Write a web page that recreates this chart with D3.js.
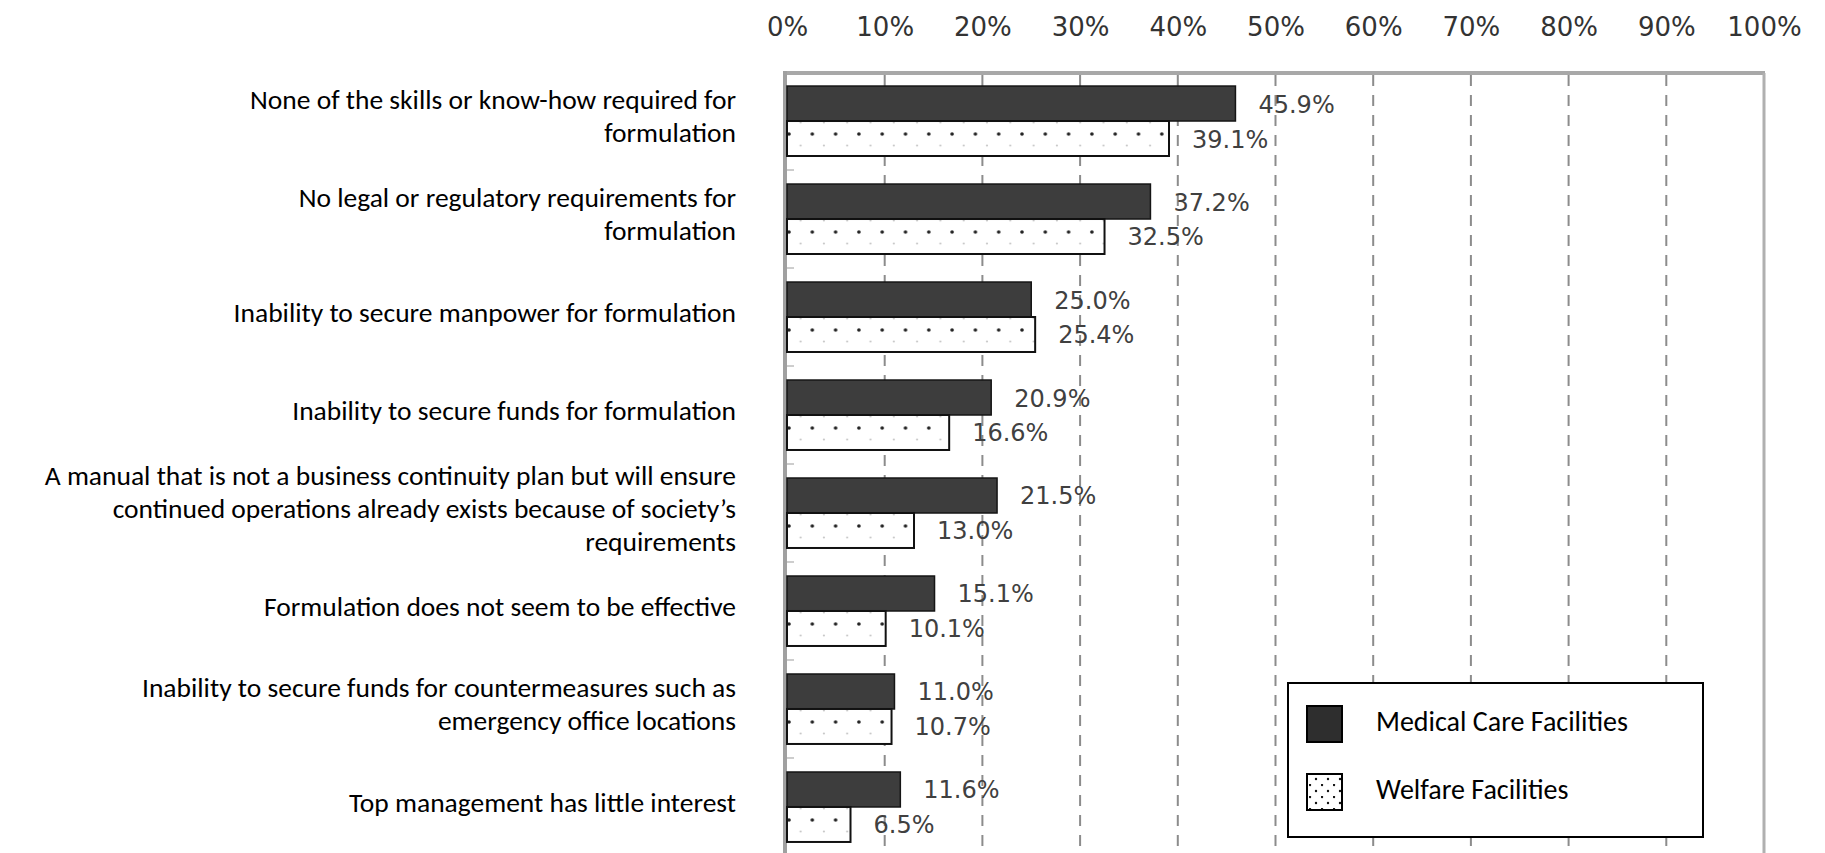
<!DOCTYPE html>
<html>
<head>
<meta charset="utf-8">
<script src="https://cdn.jsdelivr.net/npm/d3@7/dist/d3.min.js"></script>
<style>
  html, body { margin: 0; padding: 0; background: #fff; }
  svg { display: block; }
</style>
</head>
<body>
<svg id="chart"></svg>
<script>
// categories (line breaks as in the picture)
const categories = [
  'None of the skills or know-how required for\nformulation',
  'No legal or regulatory requirements for\nformulation',
  'Inability to secure manpower for formulation',
  'Inability to secure funds for formulation',
  'A manual that is not a business continuity plan but will ensure\ncontinued operations already exists because of society\u2019s\nrequirements',
  'Formulation does not seem to be effective',
  'Inability to secure funds for countermeasures such as\nemergency office locations',
  'Top management has little interest',
];
const medical = [45.9, 37.2, 25.0, 20.9, 21.5, 15.1, 11.0, 11.6];
const welfare = [39.1, 32.5, 25.4, 16.6, 13.0, 10.1, 10.7, 6.5];
const seriesNames = ['Medical Care Facilities', 'Welfare Facilities'];
const xTicks = [0, 10, 20, 30, 40, 50, 60, 70, 80, 90, 100];

const width = 1825;
const height = 853;

const svg = d3.select('#chart').attr('width', width).attr('height', height);

const defs = svg.append('defs');

// dotted fill, anchored to page like the original
const dots = defs.append('pattern')
  .attr('id', 'dots')
  .attr('patternUnits', 'userSpaceOnUse')
  .attr('x', 789).attr('y', 140)
  .attr('width', 23.3).attr('height', 23);
dots.append('rect').attr('width', 23.3).attr('height', 23).attr('fill', '#fff');
[[0, 0], [23.3, 0], [0, 23], [23.3, 23]].forEach(([cx, cy]) => {
  dots.append('circle').attr('cx', cx).attr('cy', cy).attr('r', 1.8).attr('fill', '#222');
});
dots.append('circle').attr('cx', 11.6).attr('cy', 11.5).attr('r', 1.1).attr('fill', '#c8c8c8');

const dotsSmall = defs.append('pattern')
  .attr('id', 'dots-small')
  .attr('patternUnits', 'userSpaceOnUse')
  .attr('x', 1310).attr('y', 778)
  .attr('width', 12).attr('height', 12);
dotsSmall.append('rect').attr('width', 12).attr('height', 12).attr('fill', '#fff');
dotsSmall.append('circle').attr('cx', 1).attr('cy', 1).attr('r', 1.2).attr('fill', '#111');
dotsSmall.append('circle').attr('cx', 7).attr('cy', 7).attr('r', 1.2).attr('fill', '#111');

const x = d3.scaleLinear().domain([0, 100]).range([787, 1764]);

const y = d3.scaleBand()
  .domain(d3.range(categories.length))
  .range([73, 855])
  .paddingInner(0.286)
  .paddingOuter(0.133);

const ySub = d3.scaleBand()
  .domain(['medical', 'welfare'])
  .range([0, y.bandwidth()]);

const rows = categories.map((c, i) => {
  return { i, label: c, medical: medical[i], welfare: welfare[i] };
});

// dashed gridlines
svg.append('g')
  .selectAll('line')
  .data(xTicks.filter(t => t > 0 && t < 100))
  .enter()
  .append('line')
  .attr('x1', d => x(d))
  .attr('x2', d => x(d))
  .attr('y1', 75)
  .attr('y2', height)
  .attr('stroke', '#8c8c8c')
  .attr('stroke-width', 2)
  .attr('stroke-dasharray', '11,9');

// frame: top, right, left axis
svg.append('line')
  .attr('x1', x(0) - 2).attr('x2', x(100) + 1)
  .attr('y1', 73).attr('y2', 73)
  .attr('stroke', '#a8a8a8').attr('stroke-width', 4);

svg.append('line')
  .attr('x1', x(100)).attr('x2', x(100))
  .attr('y1', 73).attr('y2', height)
  .attr('stroke', '#b0b0b0').attr('stroke-width', 3);

svg.append('line')
  .attr('x1', x(0) - 2).attr('x2', x(0) - 2)
  .attr('y1', 71).attr('y2', height)
  .attr('stroke', '#a0a0a0').attr('stroke-width', 4);

// small category ticks between groups
const gap = y.step() * y.paddingInner();
svg.append('g')
  .selectAll('line')
  .data(d3.range(1, categories.length))
  .enter()
  .append('line')
  .attr('x1', x(0))
  .attr('x2', x(0) + 7)
  .attr('y1', d => y(d) - gap / 2)
  .attr('y2', d => y(d) - gap / 2)
  .attr('stroke', '#bdbdbd')
  .attr('stroke-width', 1.5);

// top axis labels
svg.append('g')
  .attr('transform', 'translate(0,73)')
  .call(d3.axisTop(x).tickValues(xTicks).tickFormat(d => d + '%').tickSize(0).tickPadding(37))
  .call(g => g.select('.domain').remove())
  .selectAll('text')
  .attr('font-family', '"DejaVu Sans", Verdana, sans-serif')
  .attr('font-size', 26)
  .attr('fill', '#333');

// bars
const groups = svg.append('g')
  .selectAll('g')
  .data(rows)
  .enter()
  .append('g')
  .attr('transform', d => `translate(0,${y(d.i)})`);

groups.append('rect')
  .attr('x', x(0))
  .attr('y', ySub('medical'))
  .attr('width', d => x(d.medical) - x(0))
  .attr('height', ySub.bandwidth())
  .attr('fill', '#3d3d3d')
  .attr('stroke', '#151515')
  .attr('stroke-width', 1.5);

groups.append('rect')
  .attr('x', x(0))
  .attr('y', ySub('welfare'))
  .attr('width', d => x(d.welfare) - x(0))
  .attr('height', ySub.bandwidth())
  .attr('fill', 'url(#dots)')
  .attr('stroke', '#111')
  .attr('stroke-width', 2);

// value labels
['medical', 'welfare'].forEach(key => {
  groups.append('text')
    .attr('x', d => x(d[key]) + 23)
    .attr('y', ySub(key) + ySub.bandwidth() / 2 + 2)
    .attr('dominant-baseline', 'middle')
    .attr('font-family', '"DejaVu Sans", Verdana, sans-serif')
    .attr('font-size', 24)
    .attr('fill', '#404040')
    .text(d => d[key].toFixed(1) + '%');
});

// category labels
const lineH = 33;
const labels = svg.append('g')
  .selectAll('text')
  .data(rows)
  .enter()
  .append('text')
  .attr('text-anchor', 'end')
  .attr('font-family', 'Carlito, Calibri, Lato, sans-serif')
  .attr('font-size', 27.5)
  .attr('fill', '#000');

labels.each(function (d) {
  const lines = d.label.split('\n');
  const cy = y(d.i) + y.bandwidth() / 2 - 2;
  const top = cy - ((lines.length - 1) * lineH) / 2;
  d3.select(this)
    .selectAll('tspan')
    .data(lines)
    .enter()
    .append('tspan')
    .attr('x', 736)
    .attr('y', (l, k) => top + k * lineH)
    .attr('dominant-baseline', 'middle')
    .text(l => l);
});

// legend
const legend = svg.append('g');
legend.append('rect')
  .attr('x', 1288).attr('y', 683)
  .attr('width', 415).attr('height', 154)
  .attr('fill', '#fff')
  .attr('stroke', '#000')
  .attr('stroke-width', 2);

const legendItems = legend.selectAll('g')
  .data(seriesNames)
  .enter()
  .append('g')
  .attr('transform', (d, i) => `translate(1307,${706 + i * 68})`);

legendItems.append('rect')
  .attr('width', 35)
  .attr('height', 36)
  .attr('fill', (d, i) => (i === 0 ? '#2e2e2e' : 'url(#dots-small)'))
  .attr('stroke', '#000')
  .attr('stroke-width', 2);

legendItems.append('text')
  .attr('x', 69)
  .attr('y', 18)
  .attr('dominant-baseline', 'middle')
  .attr('font-family', 'Carlito, Calibri, Lato, sans-serif')
  .attr('font-size', 28)
  .attr('fill', '#000')
  .text(d => d);
</script>
</body>
</html>
